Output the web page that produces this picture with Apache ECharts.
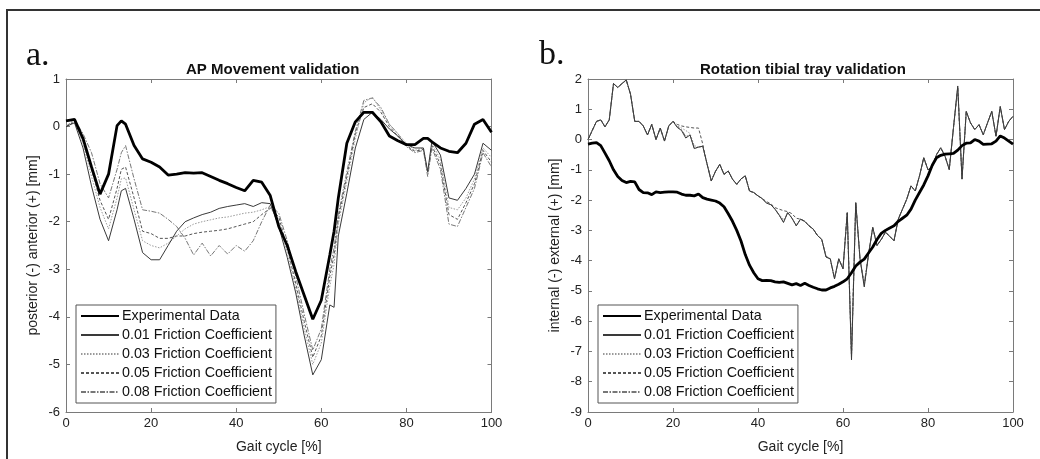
<!DOCTYPE html>
<html><head><meta charset="utf-8">
<script src="https://cdn.jsdelivr.net/npm/echarts@6/dist/echarts.min.js"></script>
<style>html,body{margin:0;padding:0;background:#fff}#c{width:1040px;height:459px}</style>
</head><body><div id="c"></div>
<script>
const seriesNames = ['Experimental Data','0.01 Friction Coefficient','0.03 Friction Coefficient','0.05 Friction Coefficient','0.08 Friction Coefficient'];
const xTicks = [0,20,40,60,80,100];

// ---- Panel a: AP movement ----
const apX = [0,2,4,6,8,10,12,13,14,16,18,20,22,24,26,28,30,32,34,36,38,40,42,44,46,48,50,52,54,56,58,60,62,63,64,66,68,70,72,74,76,78,80,82,84,85,86,88,90,92,94,96,98,100];
const apExp = [0.12,0.15,-0.25,-0.85,-1.42,-1.0,0.02,0.12,0.05,-0.4,-0.68,-0.75,-0.85,-1.02,-1.0,-0.97,-0.98,-0.97,-1.05,-1.13,-1.2,-1.28,-1.35,-1.13,-1.17,-1.45,-2.1,-2.5,-3.05,-3.55,-4.05,-3.65,-2.7,-2.2,-1.5,-0.35,0.1,0.3,0.3,0.1,-0.2,-0.3,-0.38,-0.38,-0.25,-0.25,-0.32,-0.45,-0.52,-0.55,-0.35,0.05,0.15,-0.12];
const apF01 = [0.0,0.08,-0.45,-1.25,-1.95,-2.4,-1.75,-1.35,-1.3,-1.95,-2.65,-2.8,-2.8,-2.5,-2.2,-2.0,-1.92,-1.85,-1.8,-1.72,-1.68,-1.65,-1.62,-1.68,-1.6,-1.62,-2.1,-2.75,-3.5,-4.4,-5.22,-4.9,-3.75,-3.8,-2.3,-1.4,-0.45,0.15,0.3,0.15,-0.05,-0.2,-0.38,-0.45,-0.45,-0.95,-0.3,-0.6,-1.5,-1.55,-1.3,-1.0,-0.35,-0.5];
const apF03 = [0.02,0.12,-0.35,-1.05,-1.7,-2.15,-1.5,-1.1,-1.08,-1.75,-2.4,-2.5,-2.55,-2.45,-2.3,-2.15,-2.05,-2.0,-1.96,-1.92,-1.9,-1.86,-1.82,-1.8,-1.75,-1.68,-2.0,-2.65,-3.4,-4.25,-5.0,-4.55,-3.35,-2.9,-2.05,-1.15,-0.25,0.5,0.62,0.35,0.05,-0.15,-0.35,-0.5,-0.45,-1.0,-0.35,-0.7,-1.7,-1.75,-1.5,-1.1,-0.45,-0.65];
const apF05 = [0.0,0.1,-0.3,-0.9,-1.55,-1.95,-1.3,-0.9,-0.85,-1.5,-2.2,-2.25,-2.35,-2.35,-2.3,-2.3,-2.25,-2.22,-2.2,-2.18,-2.15,-2.1,-2.05,-2.0,-1.85,-1.72,-1.9,-2.55,-3.3,-4.1,-4.85,-4.4,-3.15,-2.7,-1.95,-1.05,-0.15,0.4,0.48,0.3,0.0,-0.2,-0.4,-0.52,-0.48,-0.95,-0.4,-0.8,-1.85,-1.95,-1.6,-1.2,-0.5,-0.75];
const apF08 = [0.0,0.15,-0.15,-0.55,-1.2,-1.5,-0.9,-0.55,-0.4,-1.1,-1.75,-1.78,-1.82,-1.95,-2.1,-2.35,-2.7,-2.45,-2.72,-2.5,-2.68,-2.5,-2.62,-2.4,-2.0,-1.65,-1.82,-2.4,-3.15,-3.95,-4.7,-4.25,-3.0,-2.55,-1.85,-0.95,-0.1,0.55,0.6,0.4,0.05,-0.15,-0.42,-0.55,-0.5,-1.05,-0.45,-0.9,-2.05,-2.1,-1.7,-1.3,-0.55,-0.85];

// ---- Panel b: rotation tibial tray ----
const rotX = [0,1,2,3,4,5,6,7,8,9,10,11,12,13,14,15,16,17,18,19,20,21,22,23,24,25,26,27,28,29,30,31,32,33,34,35,36,37,38,39,40,41,42,43,44,45,46,47,48,49,50,51,52,53,54,55,56,57,58,59,60,61,62,63,64,65,66,67,68,69,70,71,72,73,74,75,76,77,78,79,80,81,82,83,84,85,86,87,88,89,90,91,92,93,94,95,96,97,98,99,100];
const rotExp = [
 -0.15,-0.12,-0.1,-0.2,-0.45,-0.7,-1.0,-1.22,-1.35,-1.42,
 -1.38,-1.4,-1.65,-1.75,-1.76,-1.82,-1.73,-1.75,-1.74,-1.73,
 -1.73,-1.74,-1.8,-1.84,-1.84,-1.86,-1.8,-1.92,-1.97,-2.0,
 -2.03,-2.1,-2.22,-2.45,-2.7,-3.0,-3.35,-3.8,-4.15,-4.4,
 -4.6,-4.66,-4.65,-4.66,-4.7,-4.72,-4.7,-4.75,-4.8,-4.76,
 -4.82,-4.75,-4.82,-4.88,-4.93,-4.97,-4.97,-4.9,-4.85,-4.78,
 -4.7,-4.6,-4.4,-4.18,-4.05,-3.95,-3.75,-3.55,-3.3,-3.1,
 -3.0,-2.92,-2.85,-2.7,-2.6,-2.5,-2.3,-2.0,-1.75,-1.5,
 -1.2,-0.85,-0.6,-0.52,-0.48,-0.47,-0.46,-0.35,-0.2,-0.12,
 -0.11,0.0,-0.05,-0.16,-0.15,-0.14,-0.05,0.12,0.05,-0.05,-0.15];
const rotF01 = [
 0.0,0.3,0.6,0.65,0.42,0.65,1.85,1.72,1.85,1.97,
 1.5,0.6,0.6,0.45,0.15,0.5,0.0,0.38,-0.05,0.45,
 0.6,0.4,0.3,0.05,0.15,-0.3,-0.25,-0.22,-0.8,-1.37,
 -1.05,-0.82,-1.15,-1.04,-1.31,-1.48,-1.3,-1.2,-1.7,-1.75,
 -1.86,-1.95,-2.1,-2.15,-2.3,-2.5,-2.74,-2.41,-2.6,-2.85,
 -2.63,-2.7,-2.85,-2.96,-3.17,-3.3,-3.88,-3.94,-4.6,-3.94,
 -4.27,-2.41,-7.28,-2.08,-3.94,-4.87,-3.8,-2.9,-3.5,-3.3,
 -3.06,-3.2,-3.34,-2.63,-2.3,-1.97,-1.53,-1.7,-1.2,-0.6,
 -1.0,-0.9,-0.5,-0.27,-0.55,-0.99,0.4,1.77,-1.31,0.93,
 0.55,0.33,0.49,0.16,0.55,0.93,0.11,1.09,0.33,0.6,0.77];
const rotF03 = [
 0.0,0.3,0.6,0.64,0.42,0.66,1.84,1.72,1.85,1.95,
 1.5,0.6,0.6,0.45,0.15,0.5,0.0,0.38,-0.05,0.45,
 0.58,0.45,0.38,0.3,0.2,-0.2,-0.25,-0.22,-0.8,-1.35,
 -1.05,-0.82,-1.15,-1.04,-1.31,-1.48,-1.3,-1.2,-1.7,-1.75,
 -1.86,-1.95,-2.1,-2.15,-2.3,-2.48,-2.65,-2.41,-2.6,-2.82,
 -2.63,-2.7,-2.85,-2.96,-3.17,-3.3,-3.85,-3.94,-4.55,-3.94,
 -4.25,-2.45,-7.2,-2.1,-3.9,-4.8,-3.8,-2.92,-3.48,-3.3,
 -3.06,-3.2,-3.32,-2.63,-2.3,-1.97,-1.55,-1.7,-1.2,-0.62,
 -1.0,-0.9,-0.5,-0.28,-0.55,-0.98,0.4,1.7,-1.28,0.92,
 0.55,0.33,0.49,0.17,0.55,0.92,0.12,1.08,0.33,0.6,0.76];
const rotF05 = [
 0.0,0.3,0.6,0.65,0.43,0.65,1.85,1.72,1.85,1.96,
 1.5,0.6,0.6,0.45,0.16,0.5,0.0,0.38,-0.04,0.45,
 0.6,0.5,0.45,0.42,0.4,0.38,0.38,-0.15,-0.8,-1.35,
 -1.05,-0.82,-1.15,-1.04,-1.31,-1.48,-1.3,-1.2,-1.7,-1.75,
 -1.86,-1.95,-2.05,-2.12,-2.25,-2.3,-2.35,-2.38,-2.45,-2.6,
 -2.63,-2.7,-2.85,-2.96,-3.17,-3.3,-3.86,-3.94,-4.58,-3.94,
 -4.26,-2.43,-7.15,-2.1,-3.92,-4.82,-3.8,-2.9,-3.5,-3.3,
 -3.06,-3.2,-3.34,-2.63,-2.3,-1.97,-1.53,-1.7,-1.2,-0.6,
 -1.0,-0.9,-0.5,-0.27,-0.55,-0.99,0.4,1.72,-1.3,0.93,
 0.55,0.33,0.49,0.16,0.55,0.93,0.11,1.08,0.33,0.6,0.77];
const rotF08 = [
 0.0,0.3,0.6,0.65,0.42,0.65,1.85,1.72,1.85,1.97,
 1.5,0.6,0.6,0.45,0.15,0.5,0.0,0.38,-0.05,0.45,
 0.6,0.42,0.33,0.1,0.15,-0.28,-0.25,-0.22,-0.8,-1.37,
 -1.05,-0.82,-1.15,-1.04,-1.31,-1.48,-1.3,-1.2,-1.7,-1.75,
 -1.86,-1.95,-2.1,-2.15,-2.3,-2.5,-2.72,-2.41,-2.6,-2.85,
 -2.63,-2.7,-2.85,-2.96,-3.17,-3.3,-3.88,-3.94,-4.6,-3.94,
 -4.27,-2.41,-7.1,-2.08,-3.94,-4.75,-3.8,-2.9,-3.5,-3.3,
 -3.06,-3.2,-3.34,-2.63,-2.3,-1.97,-1.53,-1.7,-1.2,-0.6,
 -1.0,-0.9,-0.5,-0.27,-0.55,-0.99,0.4,1.72,-1.25,0.93,
 0.55,0.33,0.49,0.16,0.55,0.93,0.11,1.09,0.33,0.6,0.77];

const FONT = '"Liberation Sans", Arial, sans-serif';
const styles = [
  {color:'#000000', width:2.8, type:'solid', z:10},
  {color:'#3a3a3a', width:1, type:'solid', z:5},
  {color:'#9a9a9a', width:1, type:[1.5,1.5], z:4},
  {color:'#555555', width:1, type:[3,2], z:3},
  {color:'#777777', width:1, type:[5,1.5,1.5,1.5], z:2}
];
function pairs(xs, ys){ return xs.map((x,i)=>[x, ys[i]]); }
function mk(idx, xs, ys, axis){
  const s = styles[idx];
  return {
    name: seriesNames[idx], type:'line', xAxisIndex: axis, yAxisIndex: axis,
    data: pairs(xs, ys), symbol:'none', showSymbol:false, z: s.z,
    lineStyle:{color:s.color, width:s.width, type:s.type},
    itemStyle:{color:s.color}
  };
}
const axisBase = {
  type:'value',
  axisLine:{show:true, onZero:false, lineStyle:{color:'#7a7a7a', width:1}},
  axisTick:{show:true, inside:true, length:4, lineStyle:{color:'#7a7a7a'}},
  splitLine:{show:false},
  axisLabel:{color:'#222', fontSize:13, fontFamily:FONT}
};
function xAx(grid, pos, named){
  return Object.assign({}, axisBase, {
    gridIndex:grid, position:pos, min:0, max:100, interval:20,
    name: named ? 'Gait cycle [%]' : '', nameLocation:'middle', nameGap:28,
    nameTextStyle:{fontSize:14, fontFamily:FONT, color:'#222'},
    axisLabel: Object.assign({}, axisBase.axisLabel, {show:named, margin:5})
  });
}
function yAx(grid, pos, min, max, name){
  return Object.assign({}, axisBase, {
    gridIndex:grid, position:pos, min:min, max:max, interval:1,
    name: name || '', nameLocation:'middle', nameGap:26,
    nameTextStyle:{fontSize:14, fontFamily:FONT, color:'#222'},
    axisLabel: Object.assign({}, axisBase.axisLabel, {show:!!name, margin:6})
  });
}
function legendAt(left){
  return {
    left:left, top:305, orient:'vertical', data:seriesNames, selectedMode:false,
    itemWidth:38, itemHeight:14, itemGap:5, padding:[4,4,4,4],
    borderColor:'#555', borderWidth:1, borderRadius:0, backgroundColor:'#fff',
    itemStyle:{opacity:0},
    textStyle:{fontSize:14.3, fontFamily:FONT, color:'#111', padding:[0,0,0,-2]}
  };
}
const chart = echarts.init(document.getElementById('c'), null, {renderer:'canvas'});
chart.setOption({
  animation:false,
  backgroundColor:'#fff',
  title:[
    {text:'AP Movement validation', left:186, top:62, textStyle:{fontSize:15, fontWeight:'bold', fontFamily:FONT, color:'#111'}, padding:0},
    {text:'Rotation tibial tray validation', left:700, top:62, textStyle:{fontSize:15, fontWeight:'bold', fontFamily:FONT, color:'#111'}, padding:0}
  ],
  grid:[
    {left:66, top:79, width:425.5, height:335},
    {left:588, top:79, width:425, height:335}
  ],
  xAxis:[xAx(0,'bottom',true), xAx(0,'top',false), xAx(1,'bottom',true), xAx(1,'top',false)],
  yAxis:[yAx(0,'left',-6,1,'posterior (-) anterior (+) [mm]'), yAx(0,'right',-6,1,null),
         yAx(1,'left',-9,2,'internal (-) external (+) [mm]'), yAx(1,'right',-9,2,null)],
  legend:[legendAt(76), legendAt(598)],
  series:[
    mk(4, apX, apF08, 0), mk(3, apX, apF05, 0), mk(2, apX, apF03, 0), mk(1, apX, apF01, 0), mk(0, apX, apExp, 0),
    mk(4, rotX, rotF08, 2), mk(3, rotX, rotF05, 2), mk(2, rotX, rotF03, 2), mk(1, rotX, rotF01, 2), mk(0, rotX, rotExp, 2)
  ],
  graphic:[
    {type:'rect', silent:true, shape:{x:7, y:10, width:1100, height:600}, style:{fill:'none', stroke:'#333', lineWidth:2}},
    {type:'text', silent:true, style:{x:26, y:73, text:'a.', font:'34px "Liberation Serif", serif', fill:'#111', verticalAlign:'bottom'}},
    {type:'text', silent:true, style:{x:539, y:72, text:'b.', font:'34px "Liberation Serif", serif', fill:'#111', verticalAlign:'bottom'}}
  ]
});
</script></body></html>
